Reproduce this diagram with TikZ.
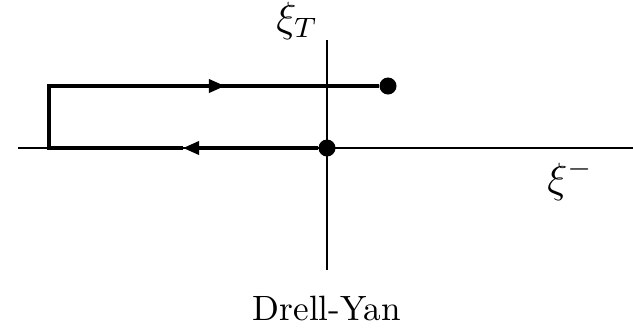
\documentclass[tikz,border=0pt]{standalone}
\usetikzlibrary{arrows.meta}

\begin{document}
\begin{tikzpicture}[x=0.01cm,y=-0.01cm,
  axis/.style={line width=0.45pt},
  wline/.style={line width=1pt},
  dot/.style={circle,fill,inner sep=0pt,minimum size=0.17cm},
  lbl/.style={font=\large},
  tip/.style={-{Triangle[length=1.6mm,width=1.3mm]}}]
\useasboundingbox (0,0) rectangle (633,327);
% ejes
\coordinate (xl) at (18,148);
\coordinate (xr) at (633,148);
\coordinate (yt) at (327,40);
\coordinate (yb) at (327,270);
\draw[axis] (xl) -- (xr);
\draw[axis] (yt) -- (yb);
\node[lbl] (xit) at (297,21) {$\xi_T$};
\node[lbl] (xim) at (570,180) {$\xi^-$};
\node[anchor=base] (dy) at (327,320) {Drell-Yan};
% camino
\node[dot] (fin) at (388,86) {};
\node[dot] (ini) at (327,148) {};
\coordinate (ca) at (49,86);
\coordinate (cb) at (49,148);
\coordinate (ma) at (225,86);
\coordinate (mb) at (183,148);
\draw[wline,tip] (ini) -- (mb);
\draw[wline,line join=miter] (mb) -- (cb) -- (ca) -- (ma);
\draw[wline,tip] (ca) -- (ma);
\draw[wline] (ma) -- (fin);
\end{tikzpicture}
\end{document}
